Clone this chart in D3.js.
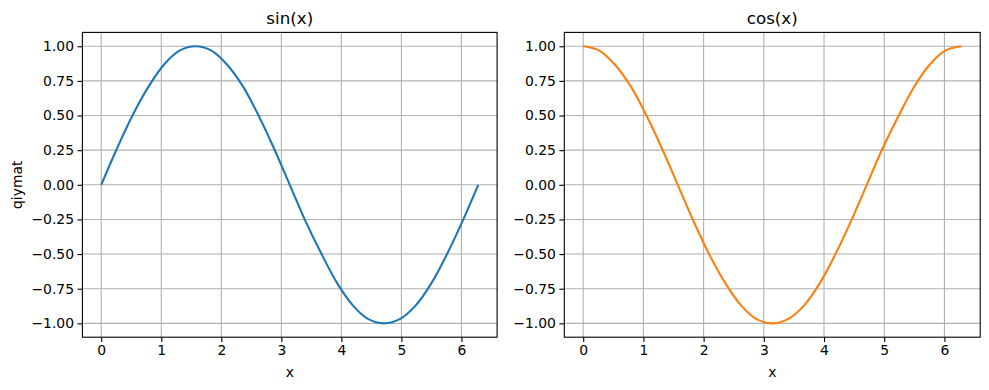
<!DOCTYPE html>
<html>
<head>
<meta charset="utf-8">
<script src="https://cdn.jsdelivr.net/npm/d3@7"></script>
<style>
  body { margin: 0; background: #fff; }
  svg { display: block; font-family: "DejaVu Sans", sans-serif; }
</style>
</head>
<body>
<div id="chart"></div>
<script>
const xValues = [0, 0.26, 0.52, 0.79, 1.05, 1.31, 1.57, 1.83, 2.09, 2.36, 2.62, 2.88, 3.14,
  3.40, 3.67, 3.93, 4.19, 4.45, 4.71, 4.97, 5.24, 5.50, 5.76, 6.02, 6.28];
const sinValues = [0, 0.26, 0.5, 0.71, 0.87, 0.97, 1, 0.97, 0.87, 0.71, 0.5, 0.26, 0,
  -0.26, -0.5, -0.71, -0.87, -0.97, -1, -0.97, -0.87, -0.71, -0.5, -0.26, 0];
const cosValues = [1, 0.97, 0.87, 0.71, 0.5, 0.26, 0, -0.26, -0.5, -0.71, -0.87, -0.97, -1,
  -0.97, -0.87, -0.71, -0.5, -0.26, 0, 0.26, 0.5, 0.71, 0.87, 0.97, 1];
const xTicks = [0, 1, 2, 3, 4, 5, 6];
const yTicks = [-1, -0.75, -0.5, -0.25, 0, 0.25, 0.5, 0.75, 1];

const W = 989, H = 390;
const svg = d3.select("#chart").append("svg")
  .attr("width", W)
  .attr("height", H);

// panels: axes boxes in pixels
const panels = [
  { title: "sin(x)", values: sinValues, color: "#1f77b4", left: 82.4, right: 497.1, ylabel: "qiymat" },
  { title: "cos(x)", values: cosValues, color: "#ff7f0e", left: 564.3, right: 980.2, ylabel: null }
];
const plotTop = 32.4, plotBottom = 337.2;

panels.forEach(p => {
  const data = xValues.map((x, i) => ({ x: x, y: p.values[i] }));

  // matplotlib style 5% margins
  const [x0, x1] = d3.extent(xValues);
  const xm = (x1 - x0) * 0.05;
  const [y0, y1] = d3.extent(p.values);
  const ym = (y1 - y0) * 0.05;

  const x = d3.scaleLinear().domain([x0 - xm, x1 + xm]).range([p.left, p.right]);
  const y = d3.scaleLinear().domain([y0 - ym, y1 + ym]).range([plotBottom, plotTop]);

  const g = svg.append("g");

  // grid
  g.append("g").selectAll("line")
    .data(xTicks)
    .enter().append("line")
    .attr("x1", d => x(d)).attr("x2", d => x(d))
    .attr("y1", plotTop).attr("y2", plotBottom)
    .attr("stroke", "#b0b0b0").attr("stroke-width", 1.1);

  g.append("g").selectAll("line")
    .data(yTicks)
    .enter().append("line")
    .attr("x1", p.left).attr("x2", p.right)
    .attr("y1", d => y(d)).attr("y2", d => y(d))
    .attr("stroke", "#b0b0b0").attr("stroke-width", 1.1);

  // line
  const line = d3.line()
    .x(d => x(d.x))
    .y(d => y(d.y))
    .curve(d3.curveCatmullRom);

  g.append("path")
    .datum(data)
    .attr("fill", "none")
    .attr("stroke", p.color)
    .attr("stroke-width", 2.1)
    .attr("d", line);

  // axes
  const xAxis = g.append("g")
    .attr("transform", `translate(0,${plotBottom})`)
    .call(d3.axisBottom(x).tickValues(xTicks).tickFormat(d3.format("d")).tickSize(4.9).tickPadding(3.5));

  const yAxis = g.append("g")
    .attr("transform", `translate(${p.left},0)`)
    .call(d3.axisLeft(y).tickValues(yTicks).tickFormat(d3.format(".2f")).tickSize(4.9).tickPadding(3.5));

  [xAxis, yAxis].forEach(a => {
    a.select(".domain").remove();
    a.selectAll(".tick line").attr("stroke", "#000").attr("stroke-width", 1.1);
    a.selectAll(".tick text")
      .attr("fill", "#000")
      .style("font-size", "13.9px")
      .style("font-family", "DejaVu Sans, sans-serif");
  });
  yAxis.selectAll(".tick text").text(d => d3.format(".2f")(d).replace("-", "\u2212"));

  // frame
  g.append("rect")
    .attr("x", p.left).attr("y", plotTop)
    .attr("width", p.right - p.left).attr("height", plotBottom - plotTop)
    .attr("fill", "none")
    .attr("stroke", "#000")
    .attr("stroke-width", 1.1);

  // title
  g.append("text")
    .attr("x", (p.left + p.right) / 2)
    .attr("y", plotTop - 8.5)
    .attr("text-anchor", "middle")
    .style("font-size", "16.7px")
    .text(p.title);

  // x label
  g.append("text")
    .attr("x", (p.left + p.right) / 2)
    .attr("y", 377)
    .attr("text-anchor", "middle")
    .style("font-size", "13.9px")
    .text("x");

  if (p.ylabel) {
    g.append("text")
      .attr("transform", `translate(22,${(plotTop + plotBottom) / 2}) rotate(-90)`)
      .attr("text-anchor", "middle")
      .style("font-size", "13.9px")
      .text(p.ylabel);
  }
});
</script>
</body>
</html>
